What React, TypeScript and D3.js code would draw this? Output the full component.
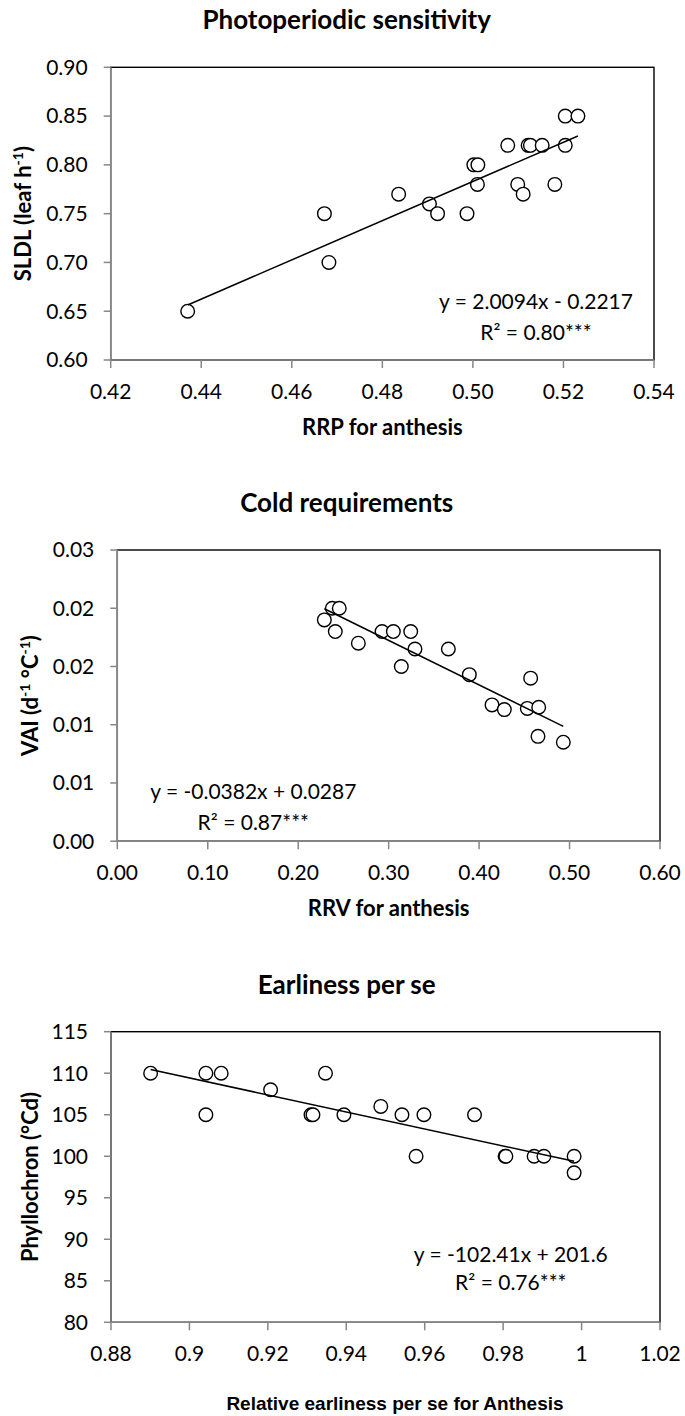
import React from 'react';
import * as d3 from 'd3';

// ---------- Panel 1: Photoperiodic sensitivity ----------
const p1X = [0.4370, 0.4672, 0.4682, 0.4836, 0.4904, 0.4922, 0.4987, 0.5002, 0.5011, 0.5010, 0.5077, 0.5099, 0.5111, 0.5122, 0.5127, 0.5153, 0.5181, 0.5204, 0.5204, 0.5232];
const p1Y = [0.65, 0.75, 0.70, 0.77, 0.76, 0.75, 0.75, 0.80, 0.80, 0.78, 0.82, 0.78, 0.77, 0.82, 0.82, 0.82, 0.78, 0.82, 0.85, 0.85];
const p1XTicks = [0.42, 0.44, 0.46, 0.48, 0.50, 0.52, 0.54];
const p1XTickLabels = ['0.42', '0.44', '0.46', '0.48', '0.50', '0.52', '0.54'];
const p1YTicks = [0.60, 0.65, 0.70, 0.75, 0.80, 0.85, 0.90];
const p1YTickLabels = ['0.60', '0.65', '0.70', '0.75', '0.80', '0.85', '0.90'];
const p1Fit = [2.0094, -0.2217];
const p1Eq = ['y = 2.0094x - 0.2217', 'R² = 0.80***'];

// ---------- Panel 2: Cold requirements ----------
const p2X = [0.2289, 0.2377, 0.2454, 0.2410, 0.2665, 0.2927, 0.3052, 0.3244, 0.3291, 0.3140, 0.3660, 0.3892, 0.4143, 0.4279, 0.4570, 0.4533, 0.4659, 0.4651, 0.4931];
const p2Y = [0.0190, 0.0200, 0.0200, 0.0180, 0.0170, 0.0180, 0.0180, 0.0180, 0.0165, 0.0150, 0.0165, 0.0143, 0.0117, 0.0113, 0.0140, 0.0114, 0.0115, 0.0090, 0.0085];
const p2XTicks = [0, 0.1, 0.2, 0.3, 0.4, 0.5, 0.6];
const p2XTickLabels = ['0.00', '0.10', '0.20', '0.30', '0.40', '0.50', '0.60'];
const p2YTicks = [0, 0.005, 0.010, 0.015, 0.020, 0.025];
const p2YTickLabels = ['0.00', '0.01', '0.01', '0.02', '0.02', '0.03'];
const p2Fit = [-0.0382, 0.0287];
const p2Eq = ['y = -0.0382x + 0.0287', 'R² = 0.87***'];

// ---------- Panel 3: Earliness per se ----------
const p3X = [0.8901, 0.9042, 0.9042, 0.9081, 0.9207, 0.9310, 0.9315, 0.9347, 0.9394, 0.9488, 0.9542, 0.9578, 0.9598, 0.9727, 0.9805, 0.9807, 0.9879, 0.9904, 0.9981, 0.9981];
const p3Y = [110, 110, 105, 110, 108, 105, 105, 110, 105, 106, 105, 100, 105, 105, 100, 100, 100, 100, 100, 98];
const p3XTicks = [0.88, 0.90, 0.92, 0.94, 0.96, 0.98, 1.00, 1.02];
const p3XTickLabels = ['0.88', '0.9', '0.92', '0.94', '0.96', '0.98', '1', '1.02'];
const p3YTicks = [80, 85, 90, 95, 100, 105, 110, 115];
const p3YTickLabels = ['80', '85', '90', '95', '100', '105', '110', '115'];
const p3Fit = [-102.41, 201.6];
const p3Eq = ['y = -102.41x + 201.6', 'R² = 0.76***'];

const FONT = 'Lato, Carlito, Calibri, sans-serif';
const AXIS_GRAY = '#868686';

type PanelProps = {
  xs: number[]; ys: number[];
  xTicks: number[]; xLabels: string[];
  yTicks: number[]; yLabels: string[];
  fit: number[]; eq: string[];
  box: { l: number; r: number; t: number; b: number };
  eqPos: { x: number; y1: number; y2: number };
  title: string; titleY: number;
  yTitle: React.ReactNode; yTitleX: number;
  xTitle?: string; xTitleY?: number;
};

function Panel(p: PanelProps) {
  const { box } = p;
  const x = d3.scaleLinear().domain([p.xTicks[0], p.xTicks[p.xTicks.length - 1]]).range([box.l, box.r]);
  const y = d3.scaleLinear().domain([p.yTicks[0], p.yTicks[p.yTicks.length - 1]]).range([box.b, box.t]);
  const [xmin, xmax] = d3.extent(p.xs) as [number, number];
  const fitData: [number, number][] = [xmin, xmax].map((v) => [v, p.fit[0] * v + p.fit[1]]);
  const line = d3.line<[number, number]>().x((d) => x(d[0])).y((d) => y(d[1]));
  const cy = (box.t + box.b) / 2;
  const cx = (box.l + box.r) / 2;
  return (
    <g>
      <text x={346.7} y={p.titleY} dy="0.35em" textAnchor="middle" fontFamily={FONT} fontWeight="bold" fontSize={26} fill="#000">{p.title}</text>
      <rect x={box.l} y={box.t} width={box.r - box.l} height={box.b - box.t} fill="#fff" stroke="#000" strokeWidth={1.4} />
      <line x1={box.l} x2={box.l} y1={box.t} y2={box.b} stroke={AXIS_GRAY} strokeWidth={1.5} />
      <line x1={box.l} x2={box.r} y1={box.b} y2={box.b} stroke={AXIS_GRAY} strokeWidth={1.5} />
      {p.yTicks.map((t, i) => (
        <g key={'yt' + i}>
          <line x1={box.l - 7} x2={box.l} y1={y(t)} y2={y(t)} stroke={AXIS_GRAY} strokeWidth={1.5} />
          <text x={box.l - 23} y={y(t)} dy="0.35em" textAnchor="end" fontFamily={FONT} fontSize={21} fill="#000">{p.yLabels[i]}</text>
        </g>
      ))}
      {p.xTicks.map((t, i) => (
        <g key={'xt' + i}>
          <line x1={x(t)} x2={x(t)} y1={box.b} y2={box.b + 8} stroke={AXIS_GRAY} strokeWidth={1.5} />
          <text x={x(t)} y={box.b + 31.5} dy="0.35em" textAnchor="middle" fontFamily={FONT} fontSize={21} fill="#000">{p.xLabels[i]}</text>
        </g>
      ))}
      {p.xs.map((v, i) => (
        <circle key={'pt' + i} cx={x(v)} cy={y(p.ys[i])} r={6.8} fill="#fff" stroke="#000" strokeWidth={1.4} />
      ))}
      <path d={line(fitData) || ''} fill="none" stroke="#000" strokeWidth={1.5} />
      <text x={p.eqPos.x} y={p.eqPos.y1} dy="0.35em" textAnchor="middle" fontFamily={FONT} fontSize={21} fill="#000">{p.eq[0]}</text>
      <text x={p.eqPos.x} y={p.eqPos.y2} dy="0.35em" textAnchor="middle" fontFamily={FONT} fontSize={21} fill="#000">{p.eq[1]}</text>
      <text transform={`translate(${p.yTitleX},${cy}) rotate(-90)`} dy="0.35em" textAnchor="middle" fontFamily={FONT} fontWeight="bold" fontSize={22} fill="#000">{p.yTitle}</text>
      {p.xTitle && (
        <text x={cx} y={p.xTitleY} dy="0.35em" textAnchor="middle" fontFamily={FONT} fontWeight="bold" fontSize={22} fill="#000">{p.xTitle}</text>
      )}
    </g>
  );
}

const sup = (s: string) => [
  <tspan key="a" dy={-8} fontSize={14}>{s}</tspan>,
];

export default function App() {
  return (
    <svg width={685} height={1416} viewBox="0 0 685 1416" style={{ position: 'absolute', left: 0, top: 0, display: 'block', background: '#fff' }}>
      <rect x={0} y={0} width={685} height={1416} fill="#fff" />
      <Panel xs={p1X} ys={p1Y} xTicks={p1XTicks} xLabels={p1XTickLabels} yTicks={p1YTicks} yLabels={p1YTickLabels}
        fit={p1Fit} eq={p1Eq}
        box={{ l: 110.7, r: 654, t: 67.3, b: 360 }}
        eqPos={{ x: 536, y1: 301.7, y2: 332.7 }}
        title="Photoperiodic sensitivity" titleY={20}
        yTitle={<>SLDL (leaf h{sup('-1')}<tspan dy={8}>)</tspan></>} yTitleX={23}
        xTitle="RRP for anthesis" xTitleY={427} />
      <Panel xs={p2X} ys={p2Y} xTicks={p2XTicks} xLabels={p2XTickLabels} yTicks={p2YTicks} yLabels={p2YTickLabels}
        fit={p2Fit} eq={p2Eq}
        box={{ l: 117.3, r: 660, t: 550, b: 841.2 }}
        eqPos={{ x: 253.3, y1: 791.7, y2: 822.5 }}
        title="Cold requirements" titleY={503}
        yTitle={<>VAI (d{sup('-1')}<tspan dy={8}> °C</tspan>{sup('-1')}<tspan dy={8}>)</tspan></>} yTitleX={30}
        xTitle="RRV for anthesis" xTitleY={908} />
      <Panel xs={p3X} ys={p3Y} xTicks={p3XTicks} xLabels={p3XTickLabels} yTicks={p3YTicks} yLabels={p3YTickLabels}
        fit={p3Fit} eq={p3Eq}
        box={{ l: 111, r: 660, t: 1031.7, b: 1322.3 }}
        eqPos={{ x: 510.8, y1: 1255, y2: 1282.5 }}
        title="Earliness per se" titleY={985}
        yTitle="Phyllochron (°Cd)" yTitleX={30} />
      <text x={395} y={1403} dy="0.35em" textAnchor="middle" fontFamily="'Liberation Sans', Arial, sans-serif" fontWeight="bold" fontSize={19} fill="#000">Relative earliness per se for Anthesis</text>
    </svg>
  );
}
